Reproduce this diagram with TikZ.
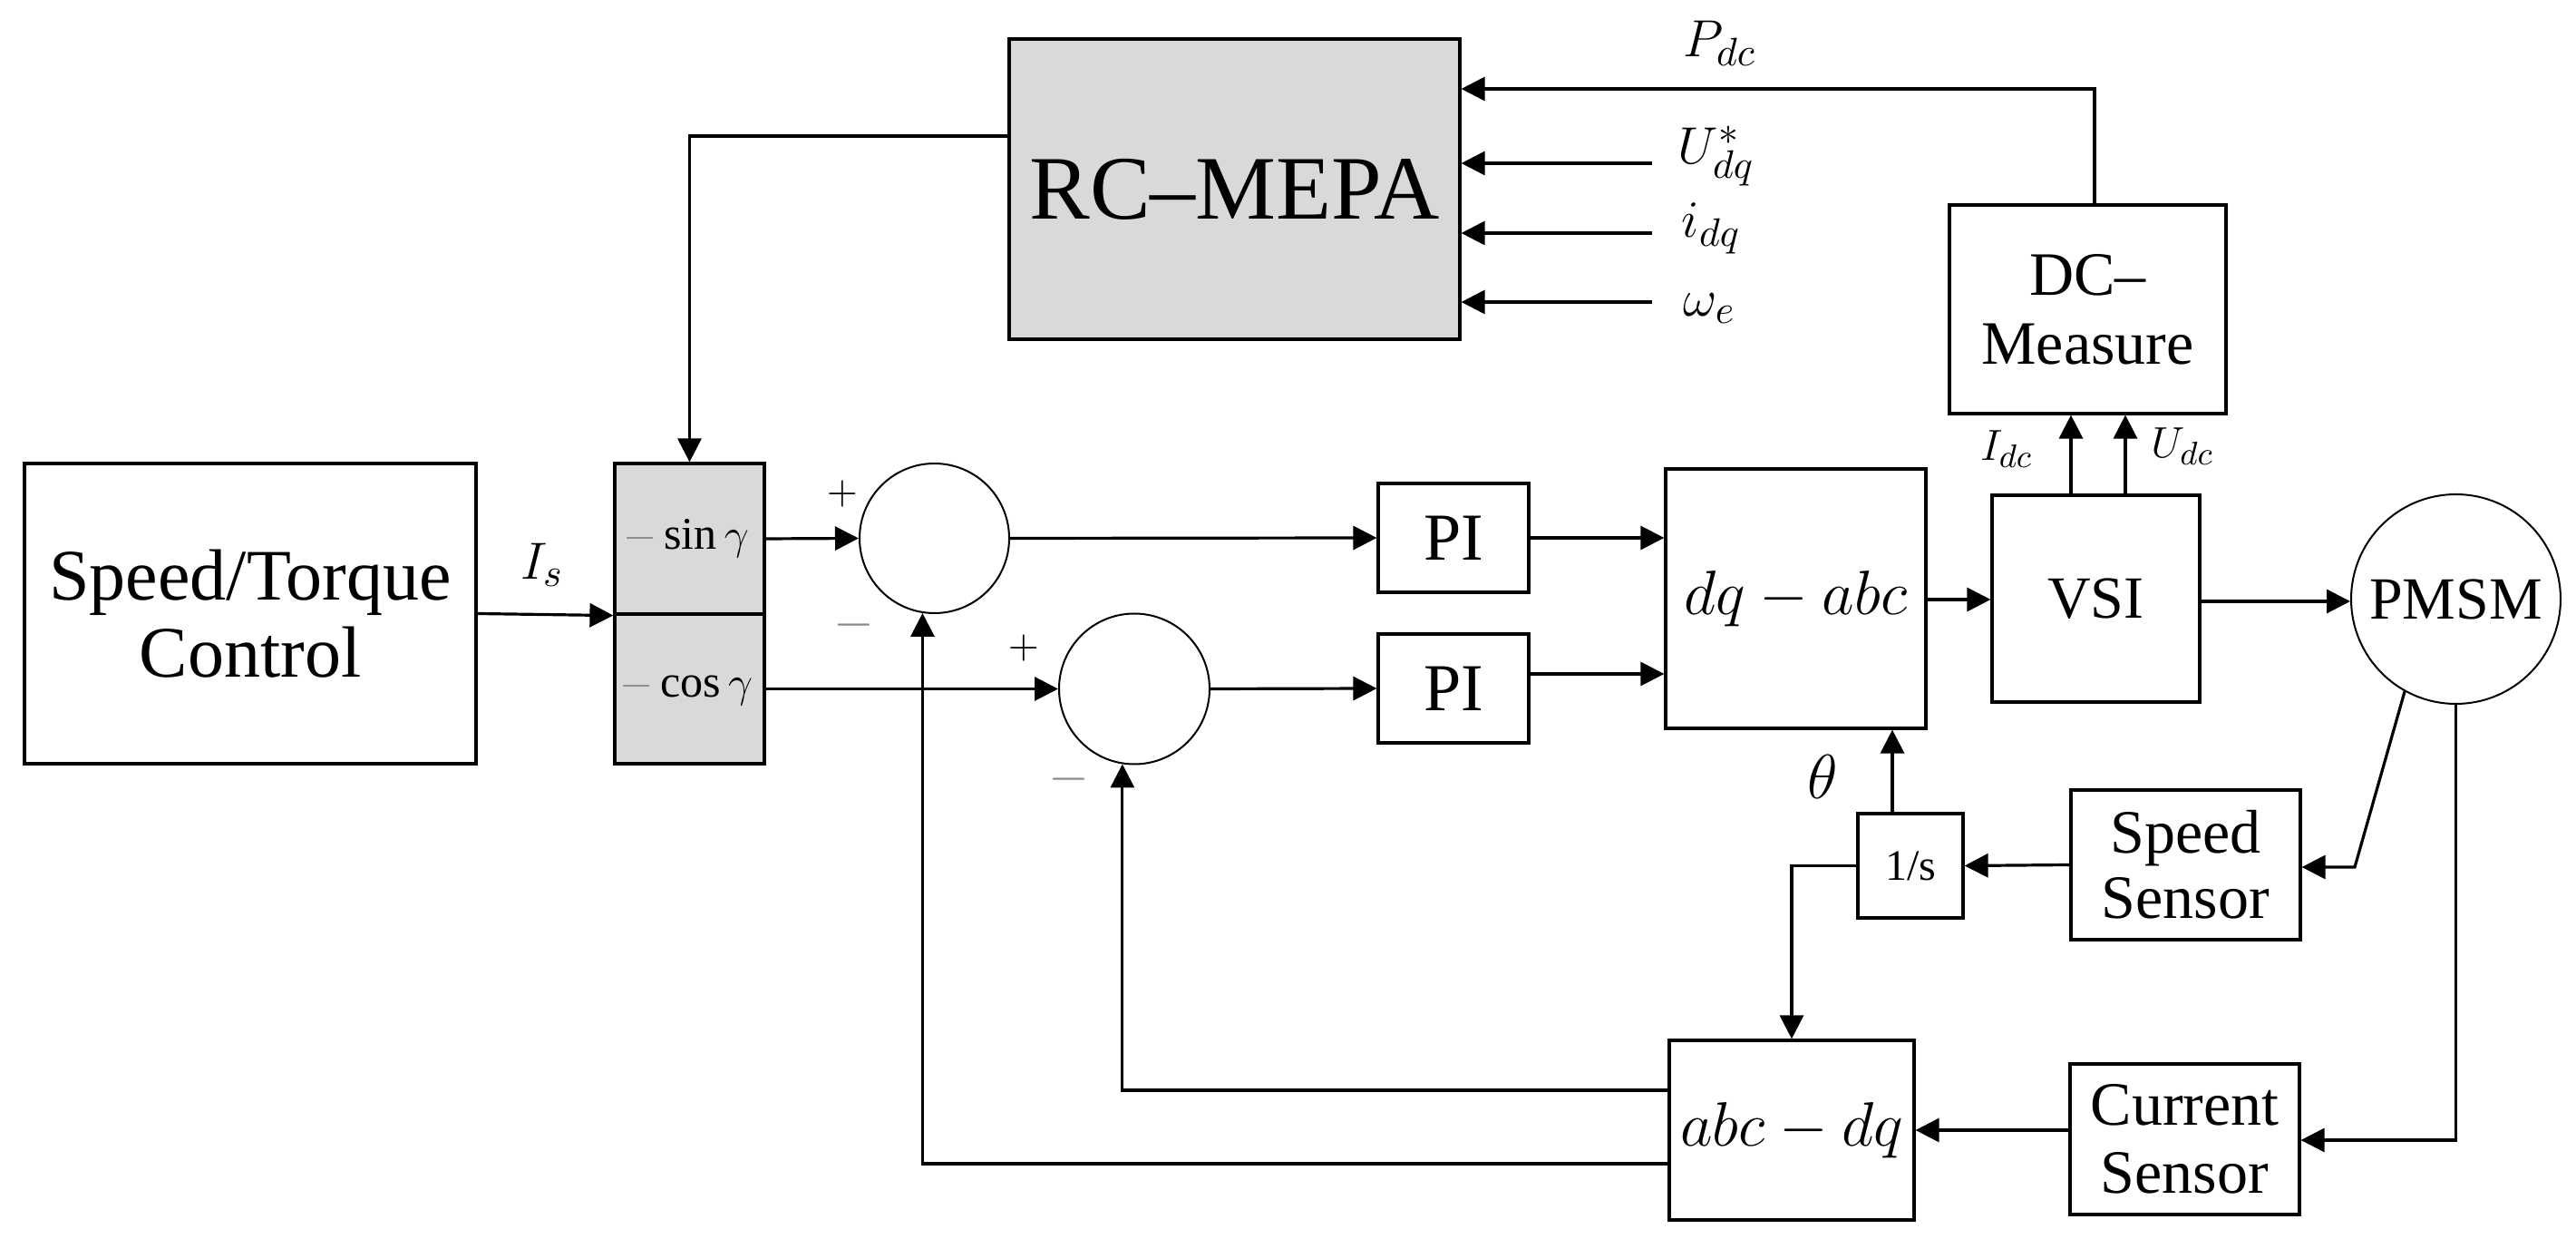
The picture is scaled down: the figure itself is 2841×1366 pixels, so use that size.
\documentclass[tikz,border=0pt]{standalone}
\usepackage{fontspec}
\setmainfont{Liberation Serif}
\usetikzlibrary{arrows.meta}
\definecolor{blockgray}{HTML}{D9D9D9}
\definecolor{signgray}{HTML}{8C8C8C}
\tikzset{
  blk/.style={draw, line width=0.8pt, inner sep=0pt, align=center},
  sumc/.style={draw, circle, line width=0.5pt, inner sep=0pt},
  arr/.style={-{Triangle[length=6.5pt,width=6.5pt]}, line width=0.8pt},
  lab/.style={inner sep=0pt}
}
\begin{document}
\begin{tikzpicture}[x=0.25pt, y=-0.25pt]
\useasboundingbox (0,0) rectangle (2841,1366);
% blocks
\node[blk, minimum width=124.5pt, minimum height=82.75pt, font=\fontsize{20}{21.25}\selectfont] (st) at (276,676.5) {Speed/Torque\\Control};
\node[blk, fill=blockgray, minimum width=41.25pt, minimum height=41.5pt, font=\fontsize{12.5}{15}\selectfont] (gs) at (760.5,594) {$\textcolor{signgray}{-}\sin\gamma\,$};
\node[blk, fill=blockgray, minimum width=41.25pt, minimum height=41.25pt, font=\fontsize{12.5}{15}\selectfont] (gc) at (760.5,759.5) {$\textcolor{signgray}{-}\cos\gamma\,$};
\node[blk, fill=blockgray, minimum width=124.25pt, minimum height=82.75pt, font=\fontsize{25}{27}\selectfont] (rc) at (1361.5,208.5) {RC–MEPA};
\node[sumc, minimum size=41.25pt] (sum1) at (1030.5,593.5) {};
\node[sumc, minimum size=41.5pt] (sum2) at (1251,759.5) {};
\node[blk, minimum width=41.5pt, minimum height=30pt, font=\fontsize{18.5}{20}\selectfont] (pi1) at (1603,593) {PI};
\node[blk, minimum width=41.5pt, minimum height=30pt, font=\fontsize{18.5}{20}\selectfont] (pi2) at (1603,759) {PI};
\node[blk, minimum width=71.75pt, minimum height=71.5pt, font=\fontsize{17}{19}\selectfont] (dq) at (1980.5,660) {$dq-abc$};
\node[blk, minimum width=57.25pt, minimum height=57pt, font=\fontsize{16.5}{18}\selectfont] (vsi) at (2311.5,660) {VSI};
\node[sumc, minimum size=57.75pt, font=\fontsize{16.5}{18}\selectfont] (pmsm) at (2708.5,660.5) {PMSM};
\node[blk, minimum width=76.25pt, minimum height=57.5pt, font=\fontsize{17}{19}\selectfont] (dcm) at (2302.5,341) {DC–\\Measure};
\node[blk, minimum width=29pt, minimum height=28.75pt, font=\fontsize{12}{14}\selectfont] (ints) at (2107,954.5) {1/s};
\node[blk, minimum width=63.25pt, minimum height=41.25pt, font=\fontsize{17}{18}\selectfont] (ss) at (2410.5,953.5) {Speed\\Sensor};
\node[blk, minimum width=63.25pt, minimum height=41.5pt, font=\fontsize{17}{18.75}\selectfont] (cs) at (2409.5,1256) {Current\\Sensor};
\node[blk, minimum width=67.5pt, minimum height=49.5pt, font=\fontsize{17}{19}\selectfont] (abcdq) at (1976,1246) {$abc-dq$};
% free ends
\coordinate (uin) at (1822,180);
\coordinate (iin) at (1822,257);
\coordinate (win) at (1822,333);
\coordinate (bend) at (2597,956);
% connectors
\draw[arr] (st.east) -- (gs.south west);
\draw[arr] (rc.west |- 0,150) -| (gs.north);
\draw[arr] (uin) -- (rc.east |- uin);
\draw[arr] (iin) -- (rc.east |- iin);
\draw[arr] (win) -- (rc.east |- win);
\draw[arr] (dcm.north -| 2310,0) |- (rc.east |- 0,98);
\draw[arr] (vsi.north -| 2284,0) -- (dcm.south -| 2284,0);
\draw[arr] (vsi.north -| 2344,0) -- (dcm.south -| 2344,0);
\draw[arr] (gs.east) -- (sum1.west);
\draw[arr] (gc.east) -- (sum2.west);
\draw[arr] (sum1.east) -- (pi1.west);
\draw[arr] (sum2.east) -- (pi2.west);
\draw[arr] (pi1.east) -- (pi1.east -| dq.west);
\draw[arr] (pi2.east |- 0,743) -- (dq.west |- 0,743);
\draw[arr] (dq.east |- 0,661) -- (vsi.west |- 0,661);
\draw[arr] (vsi.east |- 0,663) -- (pmsm.west |- 0,663);
\draw[arr] (pmsm.241) -- (bend) -- (ss.east |- bend);
\draw[arr] (ss.west) -- (ints.east);
\draw[arr] (ints.north -| 2087,0) -- (dq.south -| 2087,0);
\draw[arr] (ints.west) -| (abcdq.north);
\draw[arr] (pmsm.south) |- (cs.east |- 0,1257);
\draw[arr] (cs.west |- 0,1246) -- (abcdq.east |- 0,1246);
\draw[arr] (abcdq.west |- 0,1202) -| (sum2.261);
\draw[arr] (abcdq.west |- 0,1283) -| (sum1.261);
% labels
\node[lab, font=\fontsize{15}{17}\selectfont] (lis) at (598,623) {$I_s$};
\node[lab, anchor=west, font=\fontsize{15}{17}\selectfont] (lpdc) at (1856,48) {$P_{dc}$};
\node[lab, anchor=west, font=\fontsize{15}{17}\selectfont] (lu) at (1850,172) {$U_{dq}^{*}$};
\node[lab, anchor=west, font=\fontsize{15}{17}\selectfont] (li) at (1854,252) {$i_{dq}$};
\node[lab, anchor=west, font=\fontsize{15}{17}\selectfont] (lw) at (1856,340) {$\omega_e$};
\node[lab, font=\fontsize{13}{15}\selectfont] (lidc) at (2213,495) {$I_{dc}$};
\node[lab, font=\fontsize{13}{15}\selectfont] (ludc) at (2407,492) {$U_{dc}$};
\node[lab, font=\fontsize{18}{20}\selectfont] (lth) at (2010,857) {$\theta$};
\node[lab, font=\fontsize{11}{13}\selectfont] (p1) at (929,545) {$+$};
\node[lab, font=\fontsize{14}{16}\selectfont, text=signgray] (m1) at (942,689) {$-$};
\node[lab, font=\fontsize{11}{13}\selectfont] (p2) at (1129,715) {$+$};
\node[lab, font=\fontsize{14}{16}\selectfont, text=signgray] (m2) at (1179,859) {$-$};
\end{tikzpicture}
\end{document}
